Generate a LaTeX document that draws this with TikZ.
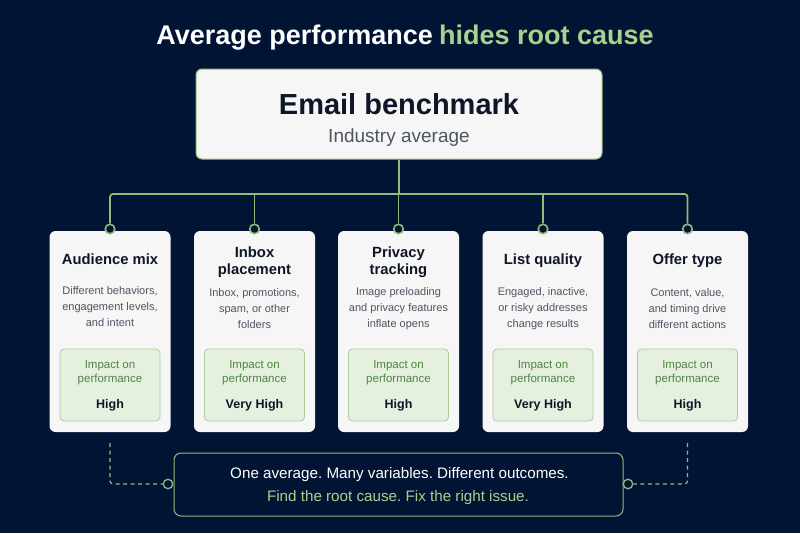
\documentclass[tikz,border=0pt]{standalone}
\usepackage{xcolor}
\usepackage{fontspec}
\setmainfont{Liberation Sans}
\usetikzlibrary{positioning}
\frenchspacing
\definecolor{bgnavy}{HTML}{021434}
\definecolor{leafgreen}{HTML}{8FBC7C}
\definecolor{lightleaf}{HTML}{A9D18E}
\definecolor{cardfill}{HTML}{F6F6F6}
\definecolor{impactfill}{HTML}{E6F0DE}
\definecolor{impactline}{HTML}{ABCD9B}
\definecolor{impacttext}{HTML}{4E8446}
\definecolor{inkdark}{HTML}{0E1628}
\definecolor{inkgray}{HTML}{4D5563}
\tikzset{
  benchbox/.style={draw=leafgreen, line width=1pt, fill=cardfill, rounded corners=6pt,
    minimum width=406pt, minimum height=90pt, inner sep=0pt},
  card/.style={fill=cardfill, rounded corners=6pt, minimum width=121pt,
    minimum height=201pt, inner sep=0pt},
  cardtitle/.style={text=inkdark, font=\bfseries\fontsize{14.8}{17}\selectfont, align=center, inner sep=0pt},
  cardtext/.style={text=inkgray, font=\fontsize{11}{16}\selectfont, align=center, inner sep=0pt},
  impact/.style={fill=impactfill, draw=impactline, line width=0.8pt, rounded corners=4pt,
    minimum width=100pt, minimum height=72pt, inner sep=0pt},
  impactlabel/.style={text=impacttext, font=\fontsize{11.5}{14}\selectfont, align=center, inner sep=0pt},
  impactlevel/.style={text=inkdark, font=\bfseries\fontsize{12.5}{14}\selectfont, inner sep=0pt},
  link/.style={leafgreen, line width=1.8pt, rounded corners=3pt},
  hint/.style={leafgreen, line width=1.2pt, dash pattern=on 4pt off 3.5pt, rounded corners=3pt},
  knob/.style={circle, draw=leafgreen, fill=bgnavy, line width=1.6pt, minimum size=9.5pt, inner sep=0pt},
  summary/.style={draw=leafgreen, line width=1pt, fill=bgnavy, rounded corners=7pt,
    minimum width=449pt, minimum height=63pt, inner sep=0pt}
}

\begin{document}
\begin{tikzpicture}[x=1pt,y=-1pt]
\fill[bgnavy] (0,0) rectangle (800,533);
\useasboundingbox (0,0) rectangle (800,533);

% title
\node[anchor=base, font=\bfseries\fontsize{27}{32}\selectfont, inner sep=0pt] (title) at (405,44)
  {\textcolor{white}{Average performance}\hspace{6pt}\textcolor{lightleaf}{hides root cause}};

% benchmark
\node[benchbox] (bench) at (399,114) {};
\node[anchor=base, text=inkdark, font=\bfseries\fontsize{29}{32}\selectfont, inner sep=0pt] (benchname) at (399,114) {Email benchmark};
\node[anchor=base, text=inkgray, font=\fontsize{19}{22}\selectfont, inner sep=0pt] (benchsub) at (399,142) {Industry average};

% cards
\node[card] (card1) at (110,331.5) {};
\node[card] (card2) at (254.5,331.5) {};
\node[card] (card3) at (398.5,331.5) {};
\node[card] (card4) at (543,331.5) {};
\node[card] (card5) at (687.5,331.5) {};

\node[knob] (knob1) at (110,229) {};
\node[knob] (knob2) at (254.5,229) {};
\node[knob] (knob3) at (398.5,229) {};
\node[knob] (knob4) at (543,229) {};
\node[knob] (knob5) at (687.5,229) {};

% bus
\coordinate (busL) at (110,194);
\coordinate (busR) at (687.5,194);
\draw[link] (knob1.north) -- (busL) -- (busR) -- (knob5.north);
\draw[link] (bench.south) -- (bench.south |- busL);
\draw[link] (knob2.north) -- (knob2.north |- busL);
\draw[link] (knob3.north) -- (knob3.north |- busL);
\draw[link] (knob4.north) -- (knob4.north |- busL);

\node[cardtitle, anchor=base] (title1) at (110,264) {Audience mix};
\node[cardtitle] (title2) at (254.5,262) {Inbox\\placement};
\node[cardtitle] (title3) at (398.5,262) {Privacy\\tracking};
\node[cardtitle, anchor=base] (title4) at (543,264) {List quality};
\node[cardtitle, anchor=base] (title5) at (687.5,264) {Offer type};

\node[cardtext] (text1) at (110,307) {Different behaviors,\\engagement levels,\\and intent};
\node[cardtext] (text2) at (254.5,309) {Inbox, promotions,\\spam, or other\\folders};
\node[cardtext] (text3) at (398.5,309) {Image preloading\\and privacy features\\inflate opens};
\node[cardtext] (text4) at (543,309) {Engaged, inactive,\\or risky addresses\\change results};
\node[cardtext] (text5) at (687.5,309) {Content, value,\\and timing drive\\different actions};

\node[impact] (impact1) at (110,385) {};
\node[impact] (impact2) at (254.5,385) {};
\node[impact] (impact3) at (398.5,385) {};
\node[impact] (impact4) at (543,385) {};
\node[impact] (impact5) at (687.5,385) {};

\node[impactlabel] (label1) at (110,373) {Impact on\\performance};
\node[impactlabel] (label2) at (254.5,373) {Impact on\\performance};
\node[impactlabel] (label3) at (398.5,373) {Impact on\\performance};
\node[impactlabel] (label4) at (543,373) {Impact on\\performance};
\node[impactlabel] (label5) at (687.5,373) {Impact on\\performance};

\node[impactlevel, anchor=base] (level1) at (110,408) {High};
\node[impactlevel, anchor=base] (level2) at (254.5,408) {Very High};
\node[impactlevel, anchor=base] (level3) at (398.5,408) {High};
\node[impactlevel, anchor=base] (level4) at (543,408) {Very High};
\node[impactlevel, anchor=base] (level5) at (687.5,408) {High};

% summary
\node[summary] (summary) at (398.5,484.5) {};
\node[anchor=base, text=white, font=\fontsize{15.2}{17}\selectfont, inner sep=0pt] (sumline1) at (399.5,478) {One average. Many variables. Different outcomes.};
\node[anchor=base, text=lightleaf, font=\fontsize{15.2}{17}\selectfont, inner sep=0pt] (sumline2) at (398,501) {Find the root cause. Fix the right issue.};

\node[knob, line width=1.3pt] (knobL) at (168,484) {};
\node[knob, line width=1.3pt] (knobR) at (628,484) {};
\draw[hint] ([yshift=-11pt]card1.south) |- (knobL);
\draw[hint] ([yshift=-11pt]card5.south) |- (knobR);
\end{tikzpicture}
\end{document}
